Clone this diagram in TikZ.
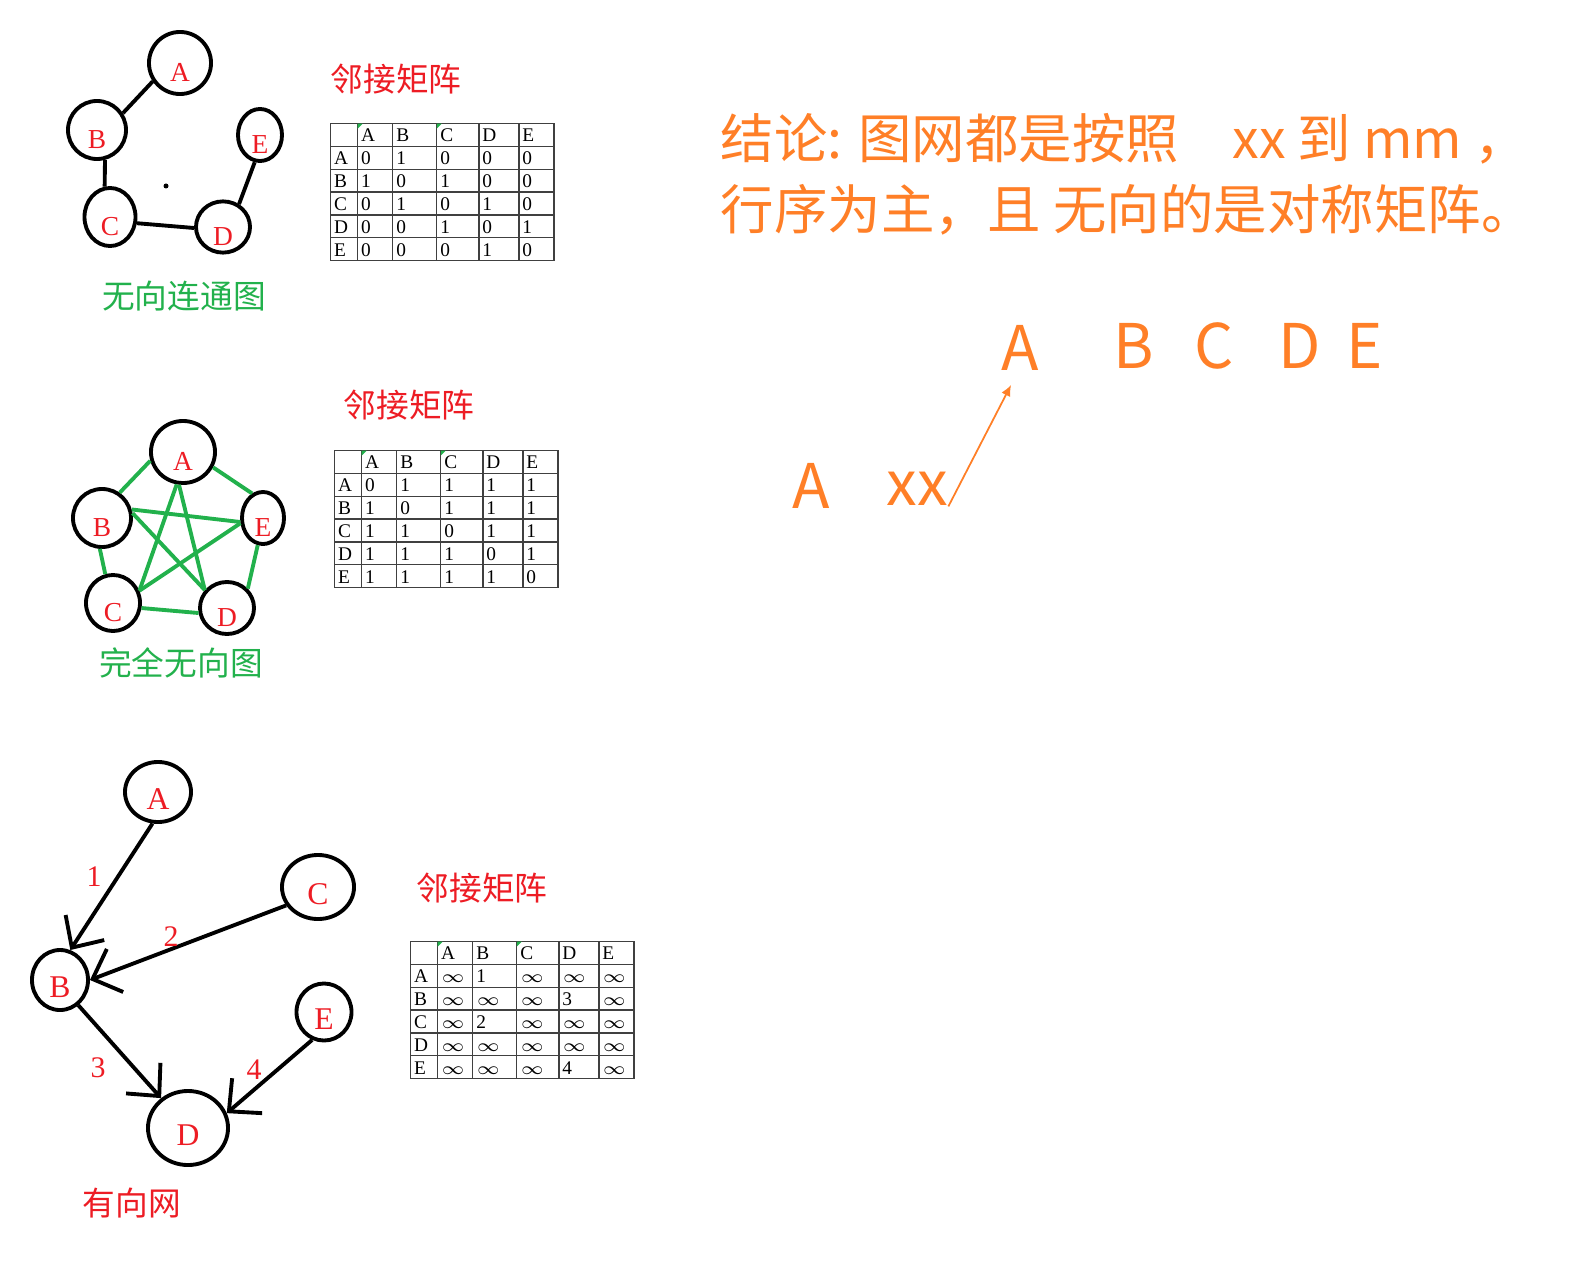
\documentclass[tikz,border=0pt]{standalone}
\usepackage{fontspec}
\setmainfont{Liberation Serif}
\newfontfamily\cjk{Noto Sans CJK SC}
\usetikzlibrary{shapes.geometric, arrows.meta, matrix}

\definecolor{lblred}{RGB}{237,28,36}
\definecolor{pgreen}{RGB}{34,177,76}
\definecolor{porange}{RGB}{255,127,39}

\begin{document}
\begin{tikzpicture}[x=0.01cm, y=-0.01cm,
        v/.style={ellipse, draw, line width=1.1pt, inner sep=0pt, text=lblred,
          font=\fontsize{7.8}{8}\selectfont, text height=10.3pt, text depth=0pt},
        vb/.style={v, font=\fontsize{9}{10}\selectfont, text height=9.9pt},
        ln/.style={line width=1.1pt},
        gln/.style={line width=1.1pt, pgreen},
        arc/.style={line width=1.1pt, -{Straight Barb[length=2.4mm, width=4.6mm]}},
        wt/.style={text=lblred, font=\fontsize{8.5}{9}\selectfont},
        ttl/.style={text=lblred, font=\cjk\fontsize{9.3}{10}\selectfont},
        capt/.style={font=\cjk\fontsize{9.3}{10}\selectfont},
        big/.style={text=porange, font=\cjk\fontsize{17.5}{18}\selectfont, inner sep=0pt},
        note/.style={text=porange, font=\cjk\fontsize{15.2}{20.2}\selectfont,
          align=left, inner sep=0pt},
        grid/.style={matrix of nodes, nodes in empty cells, anchor=north west,
          inner sep=0pt, outer sep=0pt, column sep=-0.4pt, row sep=-0.4pt,
          nodes={draw=black!75, line width=0.4pt, inner xsep=0.035cm, inner ysep=0pt,
            minimum height=0.228cm, align=left, text height=3.9pt, text depth=0pt,
            font=\fontsize{5.5}{6}\selectfont},
          column 1/.style={nodes={text width=0.20cm}},
          column 2/.style={nodes={text width=0.28cm}},
          column 3/.style={nodes={text width=0.37cm}},
          column 4/.style={nodes={text width=0.35cm}},
          column 5/.style={nodes={text width=0.33cm}},
          column 6/.style={nodes={text width=0.28cm}}}]

      \useasboundingbox (0,0) rectangle (1580,1264);

      % connected undirected graph
      \node[v, minimum width=0.62cm, minimum height=0.62cm] (a1) at (180,63) {A};
      \node[v, minimum width=0.58cm, minimum height=0.58cm] (b1) at (97,130) {B};
      \node[v, minimum width=0.51cm, minimum height=0.58cm] (c1) at (110,217) {C};
      \node[v, minimum width=0.54cm, minimum height=0.50cm] (d1) at (223,227) {D};
      \node[v, minimum width=0.44cm, minimum height=0.52cm] (e1) at (260,135) {E};
      \draw[ln] (a1.214) -- (b1.33);
      \draw[ln] (b1.285) -- (c1.100);
      \draw[ln] (c1.347) -- (d1.182);
      \draw[ln] (e1.259) -- (d1.55);
      \fill (166,186) circle (0.025cm);
      \node[capt, text=pgreen] (cap1) at (184,296) {无向连通图};

      \node[ttl] (t1) at (396,79) {邻接矩阵};
      \matrix (m1) [grid] at (330,123) {
          & A & B & C & D & E \\
        A & 0 & 1 & 0 & 0 & 0 \\
        B & 1 & 0 & 1 & 0 & 0 \\
        C & 0 & 1 & 0 & 1 & 0 \\
        D & 0 & 0 & 1 & 0 & 1 \\
        E & 0 & 0 & 0 & 1 & 0 \\
      };
      \fill[pgreen] (m1-1-2.north west) -- ++(5,0) -- ++(-5,5) -- cycle;
      \fill[pgreen] (m1-1-4.north west) -- ++(5,0) -- ++(-5,5) -- cycle;

      % complete undirected graph
      \node[v, minimum width=0.64cm, minimum height=0.62cm] (a2) at (183,452) {A};
      \node[v, minimum width=0.58cm, minimum height=0.58cm] (b2) at (102,518) {B};
      \node[v, minimum width=0.42cm, minimum height=0.52cm] (e2) at (263,518) {E};
      \node[v, minimum width=0.54cm, minimum height=0.56cm] (c2) at (113,603) {C};
      \node[v, minimum width=0.54cm, minimum height=0.52cm] (d2) at (227,608) {D};
      \draw[gln] (a2.195) -- (b2.55);
      \draw[gln] (a2.333) -- (e2.114);
      \draw[gln] (a2.259) -- (c2.25);
      \draw[gln] (a2.263) -- (d2.141);
      \draw[gln] (b2.16) -- (e2.190);
      \draw[gln] (b2.9) -- (d2.141);
      \draw[gln] (b2.266) -- (c2.105);
      \draw[gln] (c2.350) -- (d2.190);
      \draw[gln] (c2.25) -- (e2.193);
      \draw[gln] (d2.43) -- (e2.259);
      \node[capt, text=pgreen] (cap2) at (181,663) {完全无向图};

      \node[ttl] (t2) at (409,405) {邻接矩阵};
      \matrix (m2) [grid] at (334,450) {
          & A & B & C & D & E \\
        A & 0 & 1 & 1 & 1 & 1 \\
        B & 1 & 0 & 1 & 1 & 1 \\
        C & 1 & 1 & 0 & 1 & 1 \\
        D & 1 & 1 & 1 & 0 & 1 \\
        E & 1 & 1 & 1 & 1 & 0 \\
      };
      \fill[pgreen] (m2-1-2.north west) -- ++(5,0) -- ++(-5,5) -- cycle;
      \fill[pgreen] (m2-1-4.north west) -- ++(5,0) -- ++(-5,5) -- cycle;

      % directed network
      \node[vb, minimum width=0.66cm, minimum height=0.60cm] (a3) at (158,792) {A};
      \node[vb, minimum width=0.72cm, minimum height=0.64cm] (c3) at (318,887) {C};
      \node[vb, minimum width=0.56cm, minimum height=0.60cm] (b3) at (60,980) {B};
      \node[vb, minimum width=0.55cm, minimum height=0.57cm] (e3) at (324,1012) {E};
      \node[vb, minimum width=0.80cm, minimum height=0.74cm] (d3) at (188,1128) {D};
      \draw[arc] (a3.260) -- (b3.71);
      \draw[arc] (c3.210) -- (b3.0);
      \draw[arc] (b3.306) -- (d3.132);
      \draw[arc] (e3.247) -- (d3.21);
      \node[wt] (w1) at (94,877) {1};
      \node[wt] (w2) at (171,937) {2};
      \node[wt] (w3) at (98,1068) {3};
      \node[wt] (w4) at (254,1070) {4};
      \node[capt, text=lblred] (cap3) at (132,1203) {有向网};

      \node[ttl] (t3) at (482,888) {邻接矩阵};
      \matrix (m3) [grid] at (410,941) {
          & A & B & C & D & E \\
        A & $\infty$ & 1 & $\infty$ & $\infty$ & $\infty$ \\
        B & $\infty$ & $\infty$ & $\infty$ & 3 & $\infty$ \\
        C & $\infty$ & 2 & $\infty$ & $\infty$ & $\infty$ \\
        D & $\infty$ & $\infty$ & $\infty$ & $\infty$ & $\infty$ \\
        E & $\infty$ & $\infty$ & $\infty$ & 4 & $\infty$ \\
      };
      \fill[pgreen] (m3-1-2.north west) -- ++(5,0) -- ++(-5,5) -- cycle;
      \fill[pgreen] (m3-1-4.north west) -- ++(5,0) -- ++(-5,5) -- cycle;

      % conclusion
      \node[note, anchor=north west] (concl) at (720,113)
        {结论: 图网都是按照\hspace{1em}xx 到 mm ，\\行序为主，且 无向的是对称矩阵。};

      \node[big] (rowA) at (811,486) {A};
      \node[big] (xx) at (917,489) {xx};
      \node[big] (colA) at (1020,348) {A};
      \node[big] (colB) at (1134,346) {B};
      \node[big] (colC) at (1214,346) {C};
      \node[big] (colD) at (1300,346) {D};
      \node[big] (colE) at (1365,346) {E};
      \coordinate (tip) at (1011,385);
      \draw[porange, line width=0.5pt, -{Latex[length=1.1mm, width=1mm]}] (xx.south east) -- (tip);
    \end{tikzpicture}
\end{document}
